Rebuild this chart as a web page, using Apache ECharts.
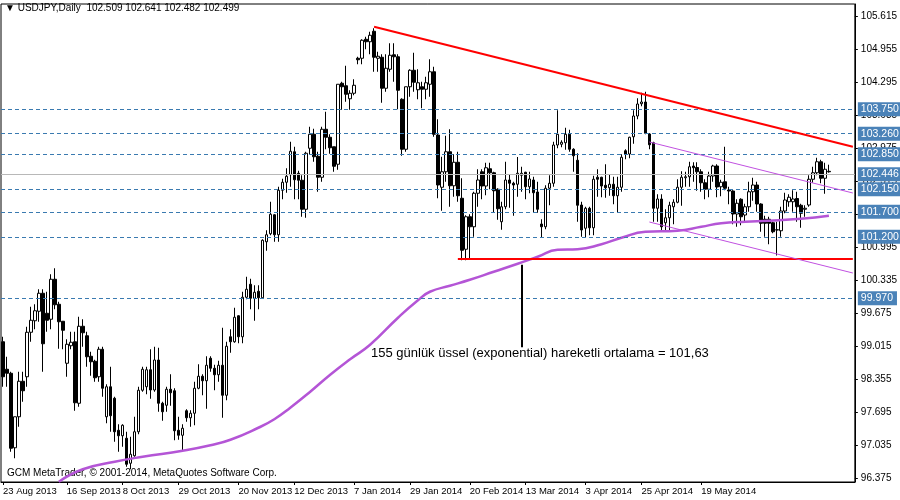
<!DOCTYPE html>
<html><head><meta charset="utf-8">
<script src="https://cdn.jsdelivr.net/npm/echarts@6/dist/echarts.min.js"></script>
<style>html,body{margin:0;padding:0;background:#fff}#c{width:900px;height:500px}</style>
</head><body><div id="c"></div>
<script>
// [open, close, low, high] per daily bar
const bars = [
[99.10,98.40,98.20,99.20],[98.55,98.47,98.20,98.80],[98.47,96.97,96.90,98.50],[96.98,97.60,96.77,97.60],[97.60,98.31,97.40,98.50],
[98.31,98.12,97.90,98.50],[98.40,99.29,98.20,99.40],[99.29,99.53,99.10,99.80],[99.52,99.72,99.35,99.85],[99.71,100.07,99.50,100.15],
[100.07,99.06,98.50,100.15],[99.67,99.53,99.30,100.10],[99.55,100.35,99.35,100.45],[100.35,99.84,99.75,100.57],[99.85,99.50,98.96,99.90],
[99.51,99.33,98.95,99.51],[98.67,99.05,98.40,99.15],[99.02,99.09,98.95,99.30],[99.10,97.88,97.72,99.30],[97.87,99.41,97.80,99.60],
[99.41,99.28,99.00,99.55],[99.22,98.80,98.60,99.30],[98.81,98.70,98.42,98.90],[98.71,98.38,98.30,98.74],[98.40,98.95,98.30,99.00],
[98.95,98.17,98.00,99.00],[97.60,98.20,97.47,98.25],[98.20,97.62,97.30,98.60],[97.97,97.30,97.10,98.00],[97.33,97.22,96.90,97.45],
[97.22,97.43,97.00,97.45],[97.17,96.65,96.60,97.30],[96.67,96.85,96.55,97.20],[96.82,97.30,96.80,97.60],[97.30,98.13,97.25,98.20],
[98.13,98.55,98.10,98.60],[98.20,98.54,98.05,98.60],[98.54,98.135,97.96,98.95],[98.135,98.735,98.10,99.00],[98.735,97.87,97.70,98.98],
[97.87,97.70,97.52,97.90],[97.83,98.15,97.70,98.20],[98.15,98.08,97.82,98.45],[98.12,97.32,97.13,98.17],[97.33,97.23,97.14,97.60],
[97.23,97.37,96.93,97.45],[97.72,97.58,97.50,97.75],[97.58,97.67,97.40,97.73],[97.67,98.17,97.43,98.30],[98.17,98.41,98.15,98.65],
[98.41,98.32,98.03,98.45],[98.32,98.63,97.76,98.81],[98.77,98.57,98.50,98.81],[98.57,98.44,98.13,98.64],[98.44,98.63,98.30,98.72],
[98.63,98.03,97.58,99.38],[98.03,99.01,97.93,99.10],[99.20,99.10,98.88,99.35],[99.10,99.59,99.08,99.78],[99.62,99.20,99.07,99.63],
[99.20,99.99,99.07,100.10],[99.99,100.15,99.95,100.40],[100.25,99.97,99.75,100.36],[99.97,100.09,99.52,100.23],[100.11,99.98,99.75,100.23],
[99.98,101.13,99.98,101.15],[101.10,101.24,100.92,101.33],[101.26,101.65,101.23,101.90],[101.64,101.24,101.10,101.65],[101.24,102.13,101.10,102.20],
[102.13,102.29,101.95,102.36],[102.29,102.41,102.08,102.57],[102.44,102.91,102.20,103.10],[102.90,102.34,101.95,103.00],[102.47,102.33,101.95,102.52],
[102.33,101.75,101.60,102.43],[101.75,102.87,101.58,102.90],[102.97,103.25,102.85,103.40],[103.25,102.80,102.70,103.36],[102.81,102.39,102.10,102.90],
[102.39,103.35,102.30,103.40],[103.35,103.19,102.95,103.70],[103.19,102.98,102.86,103.25],[103.00,102.61,102.50,103.00],[102.65,104.25,102.54,104.25],
[104.27,104.20,103.74,104.30],[104.22,104.05,103.90,104.62],[103.96,104.07,103.74,104.13],[104.07,104.23,104.03,104.35],[104.77,104.74,104.65,104.80],
[104.77,105.13,104.65,105.15],[105.15,105.10,104.95,105.20],[105.10,105.23,104.85,105.30],[105.31,104.79,104.50,105.37],[104.77,104.81,104.50,104.90],
[104.79,104.17,103.88,104.85],[104.17,104.57,104.10,104.85],[104.55,104.83,104.50,105.07],[104.84,104.80,104.30,105.07],[104.80,104.13,103.75,104.85],
[103.95,102.95,102.82,103.97],[102.95,104.20,102.90,104.20],[104.20,104.53,104.00,104.55],[104.53,104.29,104.10,104.88],[104.14,104.28,103.95,104.55],
[104.20,104.15,103.77,104.30],[104.15,104.28,103.95,104.40],[104.25,104.50,104.00,104.75],[104.50,103.25,103.20,104.60],[103.235,102.235,101.97,103.55],
[102.19,102.50,101.72,102.80],[102.50,102.90,102.30,103.22],[102.90,102.22,101.80,103.35],[102.22,102.69,102.00,102.85],[102.69,102.02,101.90,102.90],
[101.97,100.93,100.73,102.37],[100.95,101.60,100.73,101.63],[101.60,101.40,100.75,101.65],[101.40,102.07,101.20,102.10],[102.07,102.335,101.80,102.55],
[102.50,102.215,101.95,102.55],[102.215,102.58,102.03,102.68],[102.56,102.48,102.15,102.68],[102.48,102.12,101.68,102.50],[102.15,101.76,101.54,102.17],
[101.50,101.80,101.34,101.90],[101.80,102.335,101.75,102.70],[102.335,102.27,101.78,102.45],[102.27,102.235,101.62,102.30],[102.25,102.47,102.00,102.795],
[102.43,102.47,102.10,102.60],[102.49,102.20,101.95,102.50],[102.20,102.355,102.07,102.50],[102.335,102.08,101.68,102.40],[102.095,101.75,101.68,102.30],
[101.455,101.40,101.18,101.55],[101.40,102.17,101.35,102.23],[102.17,102.27,101.83,102.43],[102.27,103.035,102.20,103.10],[103.035,103.25,102.97,103.73],
[103.05,103.09,102.99,103.13],[103.08,103.25,102.94,103.38],[103.25,102.95,102.90,103.34],[102.95,102.82,102.50,102.97],[102.73,101.83,101.50,102.87],
[101.835,101.335,101.20,101.90],[101.37,101.77,101.18,101.80],[101.77,101.38,101.23,101.80],[101.38,102.35,101.23,102.42],[102.39,102.35,102.00,102.55],
[102.39,102.215,101.99,102.40],[102.23,102.18,101.98,102.65],[102.18,102.25,102.02,102.45],[102.25,102.02,101.85,102.40],[102.02,102.19,101.68,102.40],
[102.19,102.79,102.10,102.85],[102.92,102.855,102.75,102.95],[102.855,103.19,102.77,103.20],[103.20,103.615,103.06,103.73],[103.615,103.855,103.55,103.97],
[103.86,103.895,103.81,104.08],[103.895,103.27,103.25,104.10],[103.255,103.04,102.95,103.27],[103.08,101.77,101.50,103.10],[101.77,101.955,101.50,102.05],
[101.955,101.40,101.30,102.05],[101.48,101.58,101.30,101.75],[101.58,101.83,101.33,101.90],[101.80,101.89,101.45,101.95],[101.89,102.19,101.87,102.35],
[102.19,102.39,101.82,102.51],[102.38,102.40,102.20,102.50],[102.40,102.60,102.20,102.70],[102.615,102.58,102.30,102.69],[102.585,102.50,102.12,102.69],
[102.50,102.28,102.10,102.55],[102.28,102.15,101.95,102.35],[102.15,102.415,101.99,102.50],[102.415,102.615,102.30,102.64],[102.615,102.195,101.99,102.65],
[102.20,102.29,102.01,102.34],[102.30,102.17,102.13,103.00],[102.135,102.115,101.85,102.20],[102.115,101.655,101.45,102.13],[101.655,101.87,101.40,101.95],
[101.95,101.60,101.43,101.97],[101.635,101.80,101.50,101.86],[101.80,102.10,101.70,102.30],[102.10,102.235,101.92,102.38],[102.235,101.855,101.70,102.30],
[101.855,101.47,101.30,101.87],[101.55,101.47,101.20,101.62],[101.55,101.47,101.05,101.60],[101.48,101.30,101.27,101.50],[101.335,101.34,100.825,101.50],
[101.32,101.715,101.20,101.80],[101.715,101.935,101.67,102.08],[101.90,101.99,101.80,102.05],[101.90,101.955,101.70,102.13],[101.965,101.80,101.50,102.10],
[101.83,101.67,101.38,101.86],[101.75,101.77,101.60,101.83],[101.835,102.35,101.80,102.43],[102.35,102.48,102.28,102.60],[102.48,102.70,102.43,102.78],
[102.70,102.37,102.27,102.74],[102.37,102.55,102.06,102.68],[102.509,102.499,102.482,102.641]
];
// EMA(155) readings: [bar index, value]
const emaPoints = [[14,96.30],[20,96.55],[28,96.70],[35,96.80],[45,96.92],[52,97.03],[57,97.14],[64,97.38],[68,97.55],[72,97.78],[77,98.10],[82,98.44],[87,98.75],[92,99.04],[99,99.58],[104,99.93],[107,100.10],[112,100.22],[117,100.34],[123,100.50],[129,100.66],[134,100.80],[139,100.94],[144,100.95],[150,101.05],[155,101.18],[161,101.30],[169,101.32],[175,101.40],[180,101.47],[186,101.50],[192,101.52],[200,101.56],[207,101.62]];
const tickLabels = ['23 Aug 2013','16 Sep 2013','8 Oct 2013','29 Oct 2013','20 Nov 2013','12 Dec 2013','7 Jan 2014','29 Jan 2014','20 Feb 2014','13 Mar 2014','3 Apr 2014','25 Apr 2014','19 May 2014'];
const tickIndex = [0,16,30,44,59,73,88,102,117,131,146,160,175];
const yTicks = [105.615,104.955,104.295,103.635,102.975,102.315,101.655,100.995,100.335,99.675,99.015,98.355,97.695,97.035,96.375];
const levels = ['103.750','103.260','102.850','102.150','101.700','101.200','99.970'];
const bid = '102.446';
const NCAT = 214;

const cats = []; for (let i=0;i<NCAT;i++) cats.push(String(i));
const ema = new Array(bars.length).fill(null); emaPoints.forEach(p=>ema[p[0]]=p[1]);
const tickMap = {}; tickIndex.forEach((t,k)=>tickMap[t]=tickLabels[k]);

const boxLabel = ()=>({show:true,position:'end',distance:3,formatter:p=>p.name,backgroundColor:'#4a82b8',color:'#fff',padding:[2,4,1,3],fontSize:10.5,fontFamily:'Liberation Sans'});
const mlData = levels.map(v=>({name:v,yAxis:+v,lineStyle:{color:'#3a7ab0',type:[4,3],width:1},label:boxLabel()}));
mlData.push({name:bid,yAxis:+bid,lineStyle:{color:'#b8b8b8',type:'solid',width:1},label:boxLabel()});
const seg = (a,b,color,w)=>[{coord:[String(a[0]),a[1]],lineStyle:{color:color,width:w,type:'solid'},label:{show:false}},{coord:[String(b[0]),b[1]]}];
mlData.push(seg([93,105.40],[213,103.00],'#ff0000',2));
mlData.push(seg([114,100.755],[213,100.755],'#ff0000',2));
mlData.push(seg([162,103.095],[213,102.075],'#c050e0',1));
mlData.push(seg([162,101.495],[213,100.475],'#c050e0',1));
mlData.push(seg([130,100.64],[130,98.99],'#000000',2));

const chart = echarts.init(document.getElementById('c'));
chart.setOption({
  animation:false,
  grid:{left:1,top:4,width:856,height:478,show:true,borderColor:'#000',borderWidth:1},
  xAxis:{type:'category',data:cats,boundaryGap:true,
    axisLine:{lineStyle:{color:'#000'}},
    axisTick:{show:true,interval:(i)=>tickMap[i]!==undefined,lineStyle:{color:'#000'},length:3,alignWithLabel:true},
    axisLabel:{interval:(i)=>tickMap[i]!==undefined,formatter:(v,i)=>tickMap[i]||'',align:'left',margin:4,color:'#000',fontSize:9.5,fontFamily:'Liberation Sans'},
    splitLine:{show:false}},
  yAxis:{type:'value',position:'right',min:96.295,max:105.855,scale:true,
    axisLine:{show:true,lineStyle:{color:'#000'}},
    axisTick:{show:true,customValues:yTicks,length:3,lineStyle:{color:'#000'}},
    axisLabel:{customValues:yTicks,formatter:v=>v.toFixed(3),color:'#000',fontSize:10,margin:6,fontFamily:'Liberation Sans'},
    splitLine:{show:false}},
  series:[
    {type:'candlestick',data:bars,barWidth:3,
     itemStyle:{color:'#fff',color0:'#000',borderColor:'#000',borderColor0:'#000',borderWidth:1},
     markLine:{symbol:'none',silent:true,animation:false,data:mlData}},
    {type:'line',data:ema,connectNulls:true,smooth:true,symbol:'none',lineStyle:{color:'#b455d6',width:2.5},z:3}
  ],
  graphic:[
    {type:'text',left:5,top:3,style:{text:'▼ USDJPY,Daily  102.509 102.641 102.482 102.499',fill:'#000',fontSize:10,fontFamily:'Liberation Sans'}},
    {type:'text',left:7,top:468,style:{text:'GCM MetaTrader, © 2001-2014, MetaQuotes Software Corp.',fill:'#000',fontSize:10,fontFamily:'Liberation Sans'}},
    {type:'text',left:371,top:347,style:{text:'155 günlük üssel (exponential) hareketli ortalama = 101,63',fill:'#000',fontSize:13,fontFamily:'Liberation Sans'}}
  ]
});
</script></body></html>
